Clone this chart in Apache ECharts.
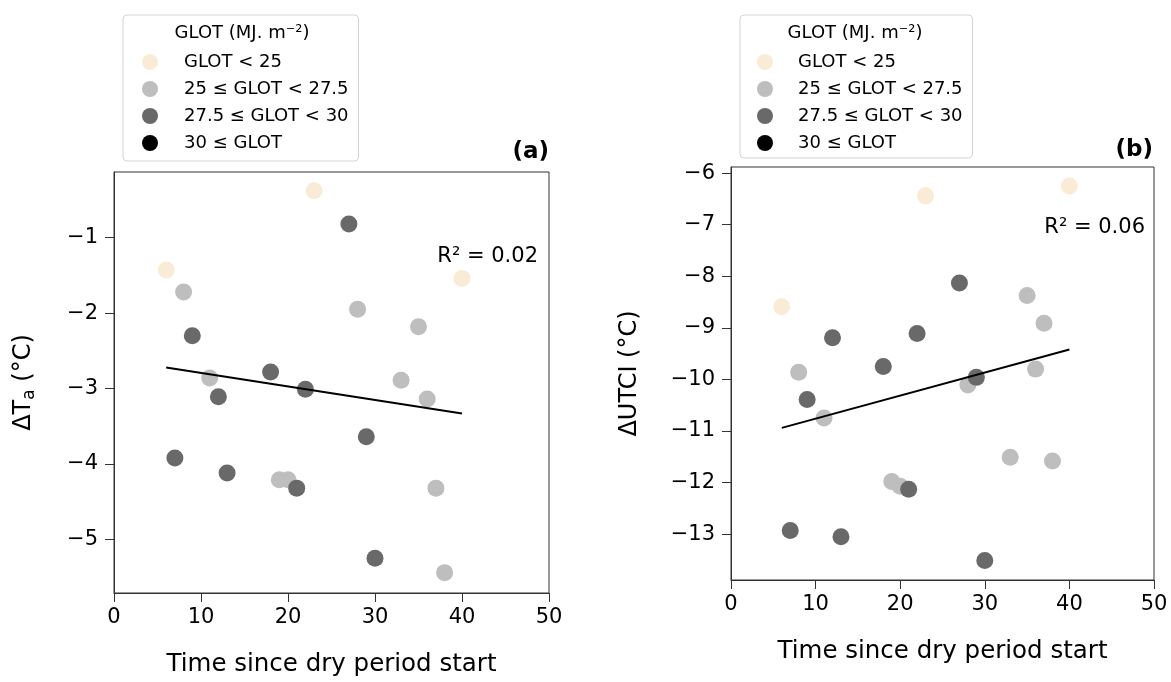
<!DOCTYPE html>
<html>
<head>
<meta charset="utf-8">
<script src="https://cdn.jsdelivr.net/npm/echarts@6/dist/echarts.min.js"></script>
<style>html,body{margin:0;padding:0;background:#fff;}#c{width:1171px;height:682px;}</style>
</head>
<body>
<div id="c"></div>
<script>
// ---- data ----
const days = [6, 7, 8, 9, 11, 12, 13, 18, 19, 20, 21, 22, 23, 27, 28, 29, 30, 33, 35, 36, 37, 38, 40];
// GLOT class index: 0 = GLOT<25, 1 = 25–27.5, 2 = 27.5–30, 3 = >=30
const glotClass = [0, 2, 1, 2, 1, 2, 2, 2, 1, 1, 2, 2, 0, 2, 1, 2, 2, 1, 1, 1, 1, 1, 0];
const dTa = [-1.43, -3.92, -1.72, -2.30, -2.86, -3.11, -4.12, -2.78, -4.21, -4.21, -4.32, -3.01, -0.38, -0.82, -1.95, -3.64, -5.25, -2.89, -2.18, -3.14, -4.32, -5.44, -1.54];
const dUTCI = [-8.59, -12.93, -9.86, -10.39, -10.75, -9.19, -13.05, -9.75, -11.98, -12.07, -12.13, -9.11, -6.44, -8.13, -10.11, -9.96, -13.51, -11.51, -8.37, -9.80, -8.91, -11.58, -6.25];
const classNames = ['GLOT < 25', '25 \u2264 GLOT < 27.5', '27.5 \u2264 GLOT < 30', '30 \u2264 GLOT'];
const fitX = [6, 40];
const fitTa = [-2.72, -3.33];
const fitUTCI = [-10.94, -9.42];
const r2Labels = ['R\u00b2 = 0.02', 'R\u00b2 = 0.06'];
const yTicksA = [-5, -4, -3, -2, -1];
const yTicksB = [-13, -12, -11, -10, -9, -8, -7, -6];

const colors = ['#FAEBD7', '#BEBEBE', '#696969', '#000000'];
const FF = 'DejaVu Sans';
const minusFmt = v => (v < 0 ? '\u2212' + Math.abs(v) : String(v));

function pts(yArr, cls) {
  const out = [];
  days.forEach((d, i) => { if (glotClass[i] === cls) out.push([d, yArr[i]]); });
  return out;
}

const series = [];
[dTa, dUTCI].forEach((arr, p) => {
  classNames.forEach((nm, c) => {
    series.push({
      type: 'scatter', name: nm, xAxisIndex: p, yAxisIndex: p,
      data: pts(arr, c), symbol: 'circle', symbolSize: 17,
      itemStyle: { color: colors[c], opacity: 1 },
      emphasis: { disabled: true }, z: 2 + c
    });
  });
  const fy = p === 0 ? fitTa : fitUTCI;
  series.push({
    type: 'line', xAxisIndex: p, yAxisIndex: p,
    data: fitX.map((x, i) => [x, fy[i]]),
    symbol: 'none', lineStyle: { color: '#000', width: 2 }, z: 10, silent: true
  });
});

function xAxisCfg(gi) {
  return {
    gridIndex: gi, type: 'value', min: 0, max: 50, interval: 10,
    name: 'Time since dry period start', nameLocation: 'middle', nameGap: 59,
    nameTextStyle: { fontFamily: FF, fontSize: 24.5, color: '#000' },
    axisLine: { show: true, onZero: false, lineStyle: { color: '#333', width: 1 } },
    axisTick: { show: true, inside: false, length: 9, lineStyle: { color: '#333', width: 1 } },
    axisLabel: { fontFamily: FF, fontSize: 21, color: '#000', margin: 14, formatter: minusFmt },
    splitLine: { show: false }
  };
}
function yAxisCfg(gi, min, max, ticks, nameRich, gap) {
  return {
    gridIndex: gi, type: 'value', min: min, max: max,
    name: nameRich, nameLocation: 'middle', nameGap: gap,
    nameTextStyle: {
      fontFamily: FF, fontSize: 24, color: '#000',
      rich: {
        n: { fontFamily: FF, fontSize: 24, color: '#000' },
        s: { fontFamily: FF, fontSize: 17, color: '#000', padding: [12, 0, 0, 0] }
      }
    },
    axisLine: { show: true, onZero: false, lineStyle: { color: '#333', width: 1 } },
    axisTick: { show: true, inside: false, length: 9, customValues: ticks, lineStyle: { color: '#333', width: 1 } },
    axisLabel: { fontFamily: FF, fontSize: 21, color: '#000', margin: 16, customValues: ticks, formatter: minusFmt },
    splitLine: { show: false }
  };
}

function legendCfg(left, padL, padTxt, padB) {
  return {
    data: classNames.map(n => ({ name: n, icon: 'circle' })),
    left: left, top: 15, orient: 'vertical',
    padding: [38, 10, padB, padL], itemWidth: 16, itemHeight: 16, itemGap: 9,
    borderColor: '#d3d3d3', borderWidth: 1, borderRadius: 4, backgroundColor: '#fff',
    selectedMode: false,
    textStyle: { fontFamily: FF, fontSize: 18, color: '#000', lineHeight: 18, padding: [0, 0, 0, padTxt] }
  };
}

const option = {
  animation: false,
  backgroundColor: '#fff',
  grid: [
    { left: 114, top: 172, width: 435, height: 423, show: true, borderColor: '#333', borderWidth: 1, backgroundColor: 'transparent', containLabel: false },
    { left: 731, top: 167, width: 423, height: 413, show: true, borderColor: '#333', borderWidth: 1, backgroundColor: 'transparent', containLabel: false }
  ],
  xAxis: [xAxisCfg(0), xAxisCfg(1)],
  yAxis: [
    yAxisCfg(0, -5.71, -0.13, yTicksA, '{n|\u0394T}{s|a}{n| (\u00b0C)}', 76),
    yAxisCfg(1, -13.89, -5.88, yTicksB, '{n|\u0394UTCI (\u00b0C)}', 89)
  ],
  legend: [legendCfg(123, 19, 21, 9), legendCfg(740, 17, 20, 6)],
  graphic: [
    { type: 'text', x: 242, y: 33, z: 100, style: { text: 'GLOT (MJ. m\u207b\u00b2)', fontFamily: FF, fontSize: 18, fill: '#000', align: 'center', verticalAlign: 'middle' } },
    { type: 'text', x: 855, y: 33, z: 100, style: { text: 'GLOT (MJ. m\u207b\u00b2)', fontFamily: FF, fontSize: 18, fill: '#000', align: 'center', verticalAlign: 'middle' } },
    { type: 'text', x: 549, y: 152, style: { text: '(a)', fontFamily: FF, fontWeight: 'bold', fontSize: 23, fill: '#000', align: 'right', verticalAlign: 'middle' } },
    { type: 'text', x: 1153, y: 150, style: { text: '(b)', fontFamily: FF, fontWeight: 'bold', fontSize: 23, fill: '#000', align: 'right', verticalAlign: 'middle' } },
    { type: 'text', x: 538, y: 257, style: { text: r2Labels[0], fontFamily: FF, fontSize: 21, fill: '#000', align: 'right', verticalAlign: 'middle' } },
    { type: 'text', x: 1145, y: 228, style: { text: r2Labels[1], fontFamily: FF, fontSize: 21, fill: '#000', align: 'right', verticalAlign: 'middle' } }
  ],
  series: series
};

const chart = echarts.init(document.getElementById('c'), null, { renderer: 'canvas' });
chart.setOption(option);
</script>
</body>
</html>
